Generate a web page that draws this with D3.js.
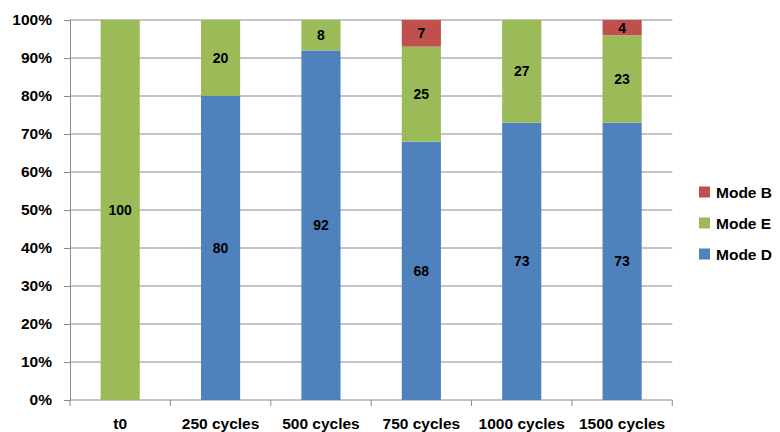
<!DOCTYPE html>
<html>
<head>
<meta charset="utf-8">
<script src="https://cdn.jsdelivr.net/npm/d3@7"></script>
<style>
  html, body { margin: 0; padding: 0; background: #fff; }
  svg { display: block; font-family: "Liberation Sans", Arial, sans-serif; }
</style>
</head>
<body>
<svg id="chart" width="780" height="432"></svg>
<script>
// Failure-mode shares (%) per cycling stage
const categories = ["t0", "250 cycles", "500 cycles", "750 cycles", "1000 cycles", "1500 cycles"];
const modeD = [0, 80, 92, 68, 73, 73];
const modeE = [100, 20, 8, 25, 27, 23];
const modeB = [0, 0, 0, 7, 0, 4];
const yTicks = [0, 10, 20, 30, 40, 50, 60, 70, 80, 90, 100];

const seriesNames = ["Mode D", "Mode E", "Mode B"];
const seriesColors = { "Mode D": "#4F81BD", "Mode E": "#9BBB59", "Mode B": "#C0504D" };

const rows = categories.map((c, i) => ({ cat: c, "Mode D": modeD[i], "Mode E": modeE[i], "Mode B": modeB[i] }));
const stacked = d3.stack().keys(seriesNames)(rows);

const svg = d3.select("#chart");
const margin = { left: 70, right: 780 - 672.3, top: 20, bottom: 432 - 400 };
const width = 780, height = 432;

const x = d3.scaleBand().domain(categories).range([margin.left, width - margin.right]).paddingInner(0.61).paddingOuter(0.305);
const xOuter = d3.scaleBand().domain(categories).range([margin.left, width - margin.right]);
const y = d3.scaleLinear().domain([0, 100]).range([height - margin.bottom, margin.top]);

const gridColor = "#8a8a8a";

// horizontal gridlines
svg.append("g")
  .selectAll("line")
  .data(yTicks.filter(t => t > 0))
  .join("line")
  .attr("x1", margin.left).attr("x2", width - margin.right)
  .attr("y1", d => y(d)).attr("y2", d => y(d))
  .attr("stroke", gridColor).attr("stroke-width", 1);

// y axis
const yAxis = svg.append("g")
  .attr("transform", `translate(${margin.left},0)`)
  .call(d3.axisLeft(y).tickValues(yTicks).tickFormat(d => d + "%").tickSize(6).tickPadding(12));
yAxis.select(".domain").attr("stroke", gridColor);
yAxis.selectAll(".tick line").attr("stroke", gridColor);
yAxis.selectAll("text").attr("font-size", "15.5px").attr("font-weight", "bold").attr("fill", "#000");

// x axis: ticks sit at category boundaries
const boundaries = categories.map(c => xOuter(c)).concat([width - margin.right]);
svg.append("line")
  .attr("x1", margin.left).attr("x2", width - margin.right)
  .attr("y1", y(0)).attr("y2", y(0))
  .attr("stroke", gridColor);
svg.append("g").selectAll("line")
  .data(boundaries)
  .join("line")
  .attr("x1", d => d).attr("x2", d => d)
  .attr("y1", y(0)).attr("y2", y(0) + 6)
  .attr("stroke", gridColor);
svg.append("g").selectAll("text")
  .data(categories)
  .join("text")
  .attr("x", d => xOuter(d) + xOuter.bandwidth() / 2)
  .attr("y", 429)
  .attr("text-anchor", "middle")
  .attr("font-size", "15.5px").attr("font-weight", "bold").attr("fill", "#000")
  .text(d => d);

// stacked bars
const layers = svg.append("g").selectAll("g")
  .data(stacked)
  .join("g")
  .attr("fill", d => seriesColors[d.key]);
layers.selectAll("rect")
  .data(d => d.filter(s => s[1] - s[0] > 0))
  .join("rect")
  .attr("x", d => x(d.data.cat))
  .attr("width", x.bandwidth())
  .attr("y", d => y(d[1]))
  .attr("height", d => y(d[0]) - y(d[1]));

// value labels
stacked.forEach(layer => {
  svg.append("g").selectAll("text")
    .data(layer.filter(s => s[1] - s[0] > 0))
    .join("text")
    .attr("x", d => x(d.data.cat) + x.bandwidth() / 2)
    .attr("y", d => y((d[0] + d[1]) / 2))
    .attr("dy", "0.35em")
    .attr("text-anchor", "middle")
    .attr("font-size", "14px").attr("font-weight", "bold").attr("fill", "#000")
    .text(d => d.data[layer.key]);
});

// legend (top to bottom: B, E, D)
const legendItems = ["Mode B", "Mode E", "Mode D"];
const legend = svg.append("g").selectAll("g")
  .data(legendItems)
  .join("g")
  .attr("transform", (d, i) => `translate(699,${192 + i * 31})`);
legend.append("rect")
  .attr("x", 0).attr("y", -5.5)
  .attr("width", 11).attr("height", 11)
  .attr("fill", d => seriesColors[d]);
legend.append("text")
  .attr("x", 17).attr("y", 0).attr("dy", "0.36em")
  .attr("font-size", "15.5px").attr("font-weight", "bold").attr("fill", "#000")
  .text(d => d);
</script>
</body>
</html>
